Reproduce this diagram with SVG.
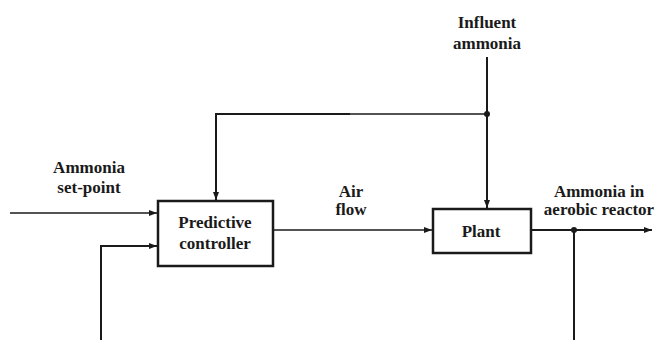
<svg xmlns="http://www.w3.org/2000/svg" width="656" height="340" viewBox="0 0 656 340">
  <defs>
    <marker id="arrow" viewBox="0 0 8 6" refX="8" refY="3" markerWidth="8" markerHeight="6" markerUnits="userSpaceOnUse" orient="auto">
      <path d="M0,0 L8,3 L0,6 Z" fill="#1a1a1a"/>
    </marker>
  </defs>
  <style>
    .box { fill: #ffffff; stroke: #1a1a1a; stroke-width: 2.5; }
    .wire { fill: none; stroke: #1a1a1a; stroke-width: 2; }
    .thin { fill: none; stroke: #1a1a1a; stroke-width: 1.3; }
    .dot { fill: #1a1a1a; }
    .lbl { font-family: 'Liberation Serif', 'DejaVu Serif', serif; font-weight: bold; font-size: 17px; fill: #1a1a1a; text-anchor: middle; }
  </style>
  <rect width="656" height="340" fill="#ffffff"/>

  <g id="connectors">
    <!-- set-point into controller -->
    <line class="thin" x1="10" y1="213" x2="157" y2="213" marker-end="url(#arrow)"/>
    <!-- measured ammonia feedback -->
    <polyline class="wire" points="574,340 574,230"/>
    <polyline class="wire" points="101,340 101,246 157,246" marker-end="url(#arrow)"/>
    <!-- influent ammonia feed-forward -->
    <line class="wire" x1="487" y1="57" x2="487" y2="208" marker-end="url(#arrow)"/>
    <line class="thin" x1="350" y1="114" x2="487" y2="114"/>
    <polyline class="wire" points="350,114 216,114 216,200" marker-end="url(#arrow)"/>
    <circle class="dot" cx="487" cy="114" r="3"/>
    <!-- air flow to plant -->
    <line class="thin" x1="273" y1="230" x2="432" y2="230" marker-end="url(#arrow)"/>
    <!-- plant output -->
    <line class="wire" x1="531" y1="230" x2="652" y2="230" marker-end="url(#arrow)"/>
    <circle class="dot" cx="574" cy="230" r="3"/>
  </g>

  <g id="controller">
    <rect class="box" x="158" y="201" width="115" height="65"/>
    <text class="lbl" font-family="Liberation Serif, serif" x="215" y="228">Predictive</text>
    <text class="lbl" font-family="Liberation Serif, serif" x="215" y="249">controller</text>
  </g>

  <g id="plant">
    <rect class="box" x="433" y="209" width="98" height="44"/>
    <text class="lbl" x="481" y="237">Plant</text>
  </g>

  <g id="labels">
    <text class="lbl" x="89" y="173">Ammonia</text>
    <text class="lbl" x="89" y="193">set-point</text>
    <text class="lbl" x="487" y="28">Influent</text>
    <text class="lbl" x="487" y="49">ammonia</text>
    <text class="lbl" x="351" y="197">Air</text>
    <text class="lbl" x="351" y="215">flow</text>
    <text class="lbl" x="599" y="197">Ammonia in</text>
    <text class="lbl" x="599" y="215">aerobic reactor</text>
  </g>
</svg>
